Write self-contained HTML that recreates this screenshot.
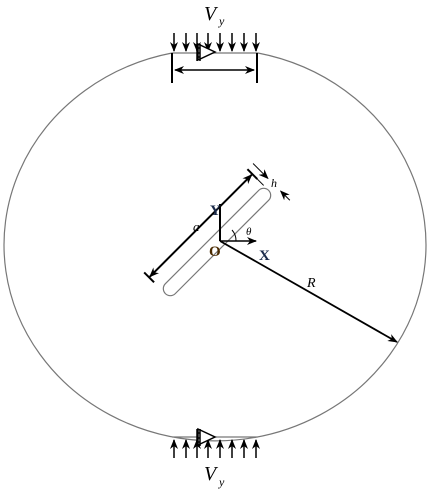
<!DOCTYPE html>
<html><head><style>
html,body{margin:0;padding:0;background:#fff;width:430px;height:495px;overflow:hidden}
svg text{font-family:"Liberation Serif",serif}
</style></head><body>
<svg width="430" height="495" viewBox="0 0 430 495">
<defs>
<marker id="ah" markerWidth="10" markerHeight="8" refX="9" refY="4" orient="auto-start-reverse" markerUnits="userSpaceOnUse"><path d="M0,0 L10,4 L0,8 L3,4 Z" fill="#000"/></marker>
</defs>
<path d="M172,53 A211,196 0 1 0 258,53 M172,53 L258,53 M172,437 L258,437" fill="none" stroke="#777" stroke-width="1.2"/>
<g stroke="#000" stroke-width="1.5">
<line x1="174" y1="33" x2="174" y2="51" marker-end="url(#ah)"/>
<line x1="186" y1="33" x2="186" y2="51" marker-end="url(#ah)"/>
<line x1="197" y1="33" x2="197" y2="51" marker-end="url(#ah)"/>
<line x1="208" y1="33" x2="208" y2="51" marker-end="url(#ah)"/>
<line x1="220" y1="33" x2="220" y2="51" marker-end="url(#ah)"/>
<line x1="232" y1="33" x2="232" y2="51" marker-end="url(#ah)"/>
<line x1="244" y1="33" x2="244" y2="51" marker-end="url(#ah)"/>
<line x1="256" y1="33" x2="256" y2="51" marker-end="url(#ah)"/>
</g>
<g stroke="#000" stroke-width="1.5">
<line x1="174" y1="458" x2="174" y2="440" marker-end="url(#ah)"/>
<line x1="186" y1="458" x2="186" y2="440" marker-end="url(#ah)"/>
<line x1="197" y1="458" x2="197" y2="440" marker-end="url(#ah)"/>
<line x1="208" y1="458" x2="208" y2="440" marker-end="url(#ah)"/>
<line x1="220" y1="458" x2="220" y2="440" marker-end="url(#ah)"/>
<line x1="232" y1="458" x2="232" y2="440" marker-end="url(#ah)"/>
<line x1="244" y1="458" x2="244" y2="440" marker-end="url(#ah)"/>
<line x1="256" y1="458" x2="256" y2="440" marker-end="url(#ah)"/>
</g>
<g fill="none" stroke="#000" stroke-width="1.5">
<path d="M198,44 L215,52 L198,60 Z" fill="#fff"/>
<line x1="197" y1="44" x2="197" y2="61"/><line x1="200" y1="44" x2="200" y2="61"/>
<line x1="197" y1="48" x2="200" y2="48"/><line x1="197" y1="53" x2="200" y2="53"/><line x1="197" y1="57" x2="200" y2="57"/>
</g>
<g fill="none" stroke="#000" stroke-width="1.5">
<path d="M198,429 L215,437 L198,445 Z" fill="#fff"/>
<line x1="197" y1="429" x2="197" y2="446"/><line x1="200" y1="429" x2="200" y2="446"/>
<line x1="197" y1="433" x2="200" y2="433"/><line x1="197" y1="438" x2="200" y2="438"/><line x1="197" y1="442" x2="200" y2="442"/>
</g>
<g stroke="#000" stroke-width="2">
<line x1="172" y1="53" x2="172" y2="83"/><line x1="257" y1="53" x2="257" y2="83"/>
<line x1="175" y1="70" x2="254" y2="70" stroke-width="1.5" marker-end="url(#ah)" marker-start="url(#ah)"/>
</g>
<text x="204" y="20" font-size="20" font-style="italic">V</text>
<text x="219" y="25" font-size="12" font-style="italic">y</text>
<text x="204" y="480" font-size="20" font-style="italic">V</text>
<text x="219" y="486" font-size="12" font-style="italic">y</text>
<g transform="translate(217,242) rotate(-45)">
<rect x="-73" y="-7" width="146" height="14" rx="7" fill="#fff" stroke="#777" stroke-width="1.2"/>
</g>
<g transform="translate(217,242) rotate(-45)" stroke="#000">
<line x1="-72" y1="-23" x2="72" y2="-23" stroke-width="2" marker-end="url(#ah)" marker-start="url(#ah)"/>
<line x1="-73" y1="-30" x2="-73" y2="-16" stroke-width="2"/>
<line x1="73" y1="-30" x2="73" y2="-16" stroke-width="2"/>
<line x1="73" y1="-16" x2="73" y2="-7" stroke-width="1"/>
<line x1="81" y1="-30" x2="81" y2="-9" stroke-width="1" marker-end="url(#ah)"/>
<line x1="81" y1="22" x2="81" y2="9" stroke-width="1" marker-end="url(#ah)"/>
</g>
<g stroke="#000" stroke-width="2">
<line x1="220" y1="241" x2="220" y2="204"/>
<line x1="220" y1="241" x2="256" y2="241" stroke-width="1.5" marker-end="url(#ah)"/>
<path d="M236,241 A16,16 0 0 0 232,230" fill="none" stroke-width="1"/>
</g>
<line x1="220" y1="241" x2="397" y2="342" stroke="#000" stroke-width="1.8" marker-end="url(#ah)"/>
<text x="210" y="215" font-size="15" font-weight="bold" fill="#1a2a4a">Y</text>
<text x="209" y="256" font-size="15" font-weight="bold" fill="#4a2a00">O</text>
<text x="259" y="260" font-size="15" font-weight="bold" fill="#1a2a4a">X</text>
<text x="246" y="235" font-size="11" font-style="italic">θ</text>
<text x="193" y="231" font-size="13" font-style="italic">a</text>
<text x="271" y="187" font-size="12" font-style="italic">h</text>
<text x="307" y="287" font-size="14" font-style="italic">R</text>
</svg>
</body></html>
